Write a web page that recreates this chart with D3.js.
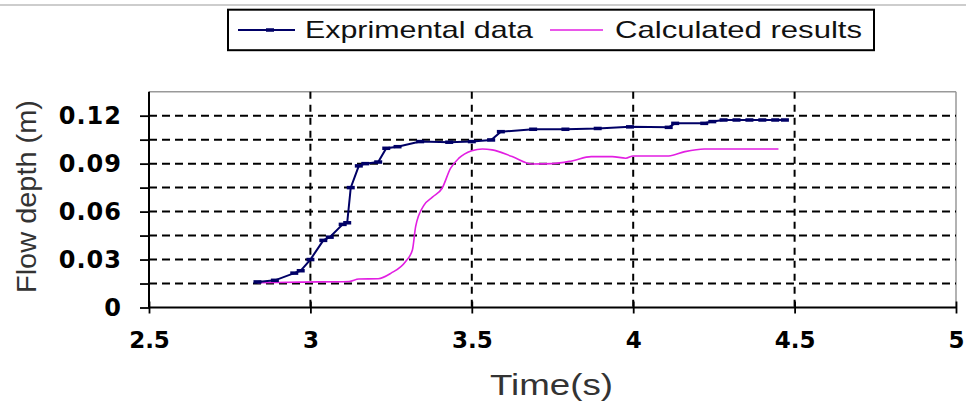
<html>
<head>
    <script src="https://d3js.org/d3.v7.min.js" charset="utf-8"></script>
    <style>
        body { margin: 0; background: #fff; }
    </style>
</head>

<body>
    <script type="text/javascript">
        // Series: time (s) and flow depth (m)
        var expTime = [2.836, 2.89, 2.95, 2.97, 3.0, 3.04, 3.06, 3.10, 3.114, 3.125, 3.15, 3.17, 3.21, 3.235, 3.27,
            3.34, 3.43, 3.50, 3.56, 3.59, 3.69, 3.79, 3.89, 3.99, 4.11, 4.13, 4.22, 4.245, 4.28, 4.32, 4.36, 4.40, 4.44, 4.47];
        var expDepth = [0.016, 0.017, 0.0215, 0.023, 0.030, 0.042, 0.044, 0.052, 0.053, 0.075, 0.0886, 0.090, 0.091, 0.0996, 0.1006,
            0.1038, 0.1034, 0.1038, 0.1048, 0.110, 0.1115, 0.1115, 0.112, 0.113, 0.1127, 0.1152, 0.1152, 0.1163, 0.1173, 0.1173, 0.1173, 0.1173, 0.1173, 0.1173];

        var calcTime = [2.836, 2.97, 3.12, 3.15, 3.21, 3.25, 3.295, 3.316, 3.326, 3.352, 3.378, 3.408, 3.434, 3.46, 3.50,
            3.533, 3.563, 3.625, 3.687, 3.75, 3.81, 3.87, 3.935, 3.977, 4.0, 4.11, 4.16, 4.22, 4.45];
        var calcDepth = [0.0155, 0.0159, 0.0163, 0.0178, 0.018, 0.0215, 0.0288, 0.036, 0.0506, 0.064, 0.069, 0.0746, 0.087, 0.0934, 0.098,
            0.0992, 0.0986, 0.0944, 0.0898, 0.090, 0.0917, 0.0944, 0.0944, 0.0934, 0.0948, 0.0948, 0.0975, 0.0992, 0.0992];

        var xTicks = [2.5, 3, 3.5, 4, 4.5, 5];
        var yTicks = [0, 0.015, 0.03, 0.045, 0.06, 0.075, 0.09, 0.105, 0.12];
        var yLabels = [0, 0.03, 0.06, 0.09, 0.12];
        var seriesNames = ["Exprimental data", "Calculated results"];

        var width = 966;
        var height = 406;
        var plotLeft = 149, plotRight = 956, plotTop = 91.7, plotBottom = 307.5;

        var svg = d3.select("body").append("svg")
            .attr("width", width)
            .attr("height", height);

        var x = d3.scaleLinear().domain([2.5, 5]).range([plotLeft, plotRight]);
        var y = d3.scaleLinear().domain([0, 0.135]).range([plotBottom, plotTop]);

        // thin grey rule along the top of the image
        svg.append("line")
            .attr("x1", 0).attr("x2", width)
            .attr("y1", 5).attr("y2", 5)
            .attr("stroke", "#bdbdbd").attr("stroke-width", 1.5);

        // Plot frame (top and right are grey)
        svg.append("line")
            .attr("x1", plotLeft).attr("x2", plotRight).attr("y1", plotTop).attr("y2", plotTop)
            .attr("stroke", "#999").attr("stroke-width", 1.5);
        svg.append("line")
            .attr("x1", plotRight).attr("x2", plotRight).attr("y1", plotTop).attr("y2", plotBottom)
            .attr("stroke", "#999").attr("stroke-width", 1.5);

        // Dashed gridlines
        svg.append("g")
            .selectAll("line")
            .data(yTicks.filter(d => d > 0))
            .join("line")
                .attr("x1", plotLeft).attr("x2", plotRight)
                .attr("y1", d => y(d)).attr("y2", d => y(d))
                .attr("stroke", "#000").attr("stroke-width", 2)
                .attr("stroke-dasharray", "8,5");
        svg.append("g")
            .selectAll("line")
            .data(xTicks.filter(d => d > 2.5 && d < 5))
            .join("line")
                .attr("x1", d => x(d)).attr("x2", d => x(d))
                .attr("y1", plotTop).attr("y2", plotBottom)
                .attr("stroke", "#000").attr("stroke-width", 2)
                .attr("stroke-dasharray", "7,6");

        // Axes
        var yAxis = svg.append("g")
            .attr("transform", "translate(" + plotLeft + ",0)")
            .call(d3.axisLeft(y)
                .tickValues(yTicks)
                .tickSize(9)
                .tickPadding(18)
                .tickFormat(d => yLabels.some(v => Math.abs(v - d) < 1e-9) ? (d === 0 ? "0" : d3.format(".2f")(d)) : ""));
        yAxis.select(".domain").attr("d", "M0," + plotTop + "V" + plotBottom).attr("stroke-width", 2);
        yAxis.selectAll(".tick line").attr("stroke-width", 1.8);
        yAxis.selectAll("text")
            .attr("font-family", "DejaVu Sans")
            .attr("font-weight", "bold")
            .attr("font-size", 24)
            .attr("letter-spacing", 1)
            .attr("fill", "#000");

        var xAxis = svg.append("g")
            .attr("transform", "translate(0," + plotBottom + ")")
            .call(d3.axisBottom(x)
                .tickValues(xTicks)
                .tickSize(6)
                .tickPadding(18)
                .tickFormat(d3.format("")));
        xAxis.select(".domain").attr("d", "M" + plotLeft + ",0H" + plotRight).attr("stroke-width", 2);
        xAxis.selectAll(".tick line").attr("y1", -6).attr("stroke-width", 1.8);
        xAxis.selectAll("text")
            .attr("font-family", "DejaVu Sans")
            .attr("font-weight", "bold")
            .attr("font-size", 23)
            .attr("fill", "#000");

        // Axis titles
        svg.append("text")
            .attr("transform", "translate(36," + ((100 + 293) / 2) + ") rotate(-90)")
            .attr("text-anchor", "middle")
            .attr("font-family", "Liberation Sans")
            .attr("font-size", 28)
            .attr("fill", "#333")
            .attr("textLength", 193)
            .attr("lengthAdjust", "spacingAndGlyphs")
            .text("Flow depth (m)");

        svg.append("text")
            .attr("x", 490).attr("y", 395)
            .attr("font-family", "Liberation Sans")
            .attr("font-size", 30)
            .attr("fill", "#333")
            .attr("textLength", 123)
            .attr("lengthAdjust", "spacingAndGlyphs")
            .text("Time(s)");

        // Lines
        var expData = expTime.map((t, i) => [t, expDepth[i]]);
        var calcData = calcTime.map((t, i) => [t, calcDepth[i]]);

        var line = d3.line().x(d => x(d[0])).y(d => y(d[1]));
        var smooth = d3.line().x(d => x(d[0])).y(d => y(d[1])).curve(d3.curveMonotoneX);

        svg.append("path")
            .attr("d", smooth(calcData))
            .attr("fill", "none")
            .attr("stroke", "#e21fe2")
            .attr("stroke-width", 1.6);

        svg.append("path")
            .attr("d", line(expData))
            .attr("fill", "none")
            .attr("stroke", "#000066")
            .attr("stroke-width", 2);

        svg.append("g")
            .selectAll("rect")
            .data(expData)
            .join("rect")
                .attr("x", d => x(d[0]) - 4)
                .attr("y", d => y(d[1]) - 1.75)
                .attr("width", 8)
                .attr("height", 3.5)
                .attr("fill", "#000066");

        // Legend
        svg.append("rect")
            .attr("x", 228).attr("y", 9.7)
            .attr("width", 646).attr("height", 40.5)
            .attr("fill", "none")
            .attr("stroke", "#000")
            .attr("stroke-width", 2);

        svg.append("line")
            .attr("x1", 238).attr("x2", 295).attr("y1", 30).attr("y2", 30)
            .attr("stroke", "#000066").attr("stroke-width", 2);
        svg.append("rect")
            .attr("x", 266).attr("y", 28.25).attr("width", 8).attr("height", 3.5)
            .attr("fill", "#000066");
        svg.append("line")
            .attr("x1", 550).attr("x2", 603).attr("y1", 30).attr("y2", 30)
            .attr("stroke", "#e21fe2").attr("stroke-width", 1.6);

        svg.append("text")
            .attr("x", 305).attr("y", 38.3)
            .attr("font-family", "Liberation Sans")
            .attr("font-size", 24)
            .attr("fill", "#111")
            .attr("textLength", 228)
            .attr("lengthAdjust", "spacingAndGlyphs")
            .text(seriesNames[0]);
        svg.append("text")
            .attr("x", 615).attr("y", 38.3)
            .attr("font-family", "Liberation Sans")
            .attr("font-size", 24)
            .attr("fill", "#111")
            .attr("textLength", 247)
            .attr("lengthAdjust", "spacingAndGlyphs")
            .text(seriesNames[1]);
    </script>
</body>

</html>
